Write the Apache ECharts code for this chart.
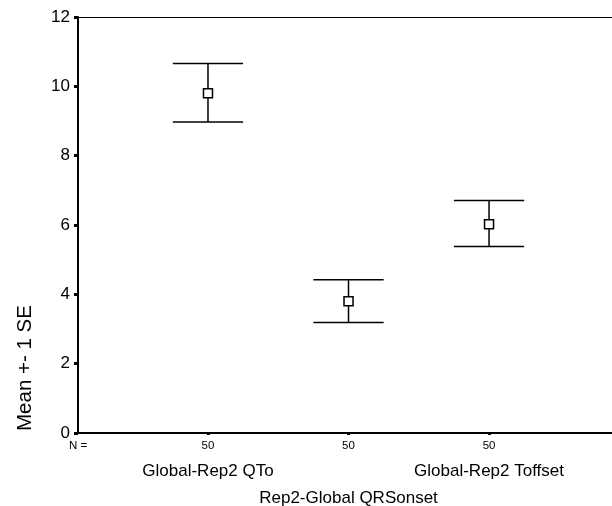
<!DOCTYPE html>
<html>
<head>
<meta charset="utf-8">
<script src="https://cdn.jsdelivr.net/npm/echarts@6/dist/echarts.min.js"></script>
<style>
  html, body { margin: 0; padding: 0; background: #fff; }
  #chart { width: 612px; height: 506px; }
</style>
</head>
<body>
<div id="chart"></div>
<script>
// groups along the x axis
const categories = ['Global-Rep2 QTo', 'Rep2-Global QRSonset', 'Global-Rep2 Toffset']
const counts = [50, 50, 50]
// mean and mean +- 1 SE
const means = [9.80, 3.80, 6.02]
const lower = [8.97, 3.19, 5.38]
const upper = [10.66, 4.42, 6.71]
const yTicks = [0, 2, 4, 6, 8, 10, 12]

const font = '"Liberation Sans", Arial, Helvetica, sans-serif'
const xMin = 0.075
const xMax = 3.875

;(function () {
  const el = document.getElementById('chart')
  const chart = echarts.init(el)

  const data = categories.map(function (c, i) {
    return [i + 1, means[i], lower[i], upper[i]]
  })

  // extra bottom axes used only to carry the staggered group names
  function nameAxis(values, margin) {
    return {
      type: 'value',
      position: 'bottom',
      min: xMin,
      max: xMax,
      splitLine: { show: false },
      axisLine: { show: false, onZero: false },
      axisTick: { show: false },
      axisLabel: {
        customValues: values,
        margin: margin,
        fontSize: 17,
        lineHeight: 20,
        fontFamily: font,
        color: '#000',
        formatter: function (v) { return categories[Math.round(v) - 1] }
      }
    }
  }

  const options = {
    animation: false,
    grid: { left: 78, right: 0, top: 17, bottom: 73, outerBoundsMode: 'none' },
    xAxis: [
      {
        type: 'value',
        min: xMin,
        max: xMax,
        splitLine: { show: false },
        axisLine: { show: true, onZero: false, lineStyle: { color: '#000', width: 2 } },
        axisTick: {
          show: true,
          customValues: [1, 2, 3],
          length: 2,
          lineStyle: { color: '#000', width: 3 }
        },
        axisLabel: {
          customValues: [xMin, 1, 2, 3],
          margin: 7,
          fontSize: 11.5,
          fontFamily: font,
          color: '#000',
          formatter: function (v) {
            if (v < 0.5) return 'N ='
            return String(counts[Math.round(v) - 1])
          }
        }
      },
      {
        type: 'value',
        position: 'top',
        min: xMin,
        max: xMax,
        splitLine: { show: false },
        axisLine: { show: true, onZero: false, lineStyle: { color: '#000', width: 1 } },
        axisTick: { show: false },
        axisLabel: { show: false }
      },
      nameAxis([1, 3], 28),
      nameAxis([2], 55)
    ],
    yAxis: {
      type: 'value',
      min: 0,
      max: 12,
      interval: 2,
      splitLine: { show: false },
      axisLine: { show: true, lineStyle: { color: '#000', width: 2 } },
      axisTick: { show: true, length: 4, lineStyle: { color: '#000', width: 3 } },
      axisLabel: {
        margin: 8,
        fontSize: 17,
        fontFamily: font,
        color: '#000',
        formatter: function (v) { return yTicks.indexOf(v) >= 0 ? String(v) : '' }
      }
    },
    graphic: [
      {
        type: 'text',
        x: 25,
        y: 368,
        rotation: Math.PI / 2,
        style: {
          text: 'Mean +- 1 SE',
          fontSize: 20.5,
          fontFamily: font,
          fill: '#000',
          align: 'center',
          verticalAlign: 'middle'
        }
      }
    ],
    series: [
      {
        type: 'custom',
        data: data,
        encode: { x: 0, y: [1, 2, 3] },
        renderItem: function (params, api) {
          const x = api.value(0)
          const hi = api.coord([x, api.value(3)])
          const lo = api.coord([x, api.value(2)])
          const mid = api.coord([x, api.value(1)])
          const half = api.size([0.25, 0])[0]
          const st = { stroke: '#000', lineWidth: 1.5, fill: null }
          const box = 9
          return {
            type: 'group',
            children: [
              { type: 'line', shape: { x1: hi[0] - half, y1: hi[1], x2: hi[0] + half, y2: hi[1] }, style: st },
              { type: 'line', shape: { x1: lo[0] - half, y1: lo[1], x2: lo[0] + half, y2: lo[1] }, style: st },
              { type: 'line', shape: { x1: hi[0], y1: hi[1], x2: lo[0], y2: lo[1] }, style: st },
              {
                type: 'rect',
                shape: { x: mid[0] - box / 2, y: mid[1] - box / 2, width: box, height: box },
                style: { stroke: '#000', lineWidth: 1.5, fill: '#fff' }
              }
            ]
          }
        }
      }
    ]
  }

  chart && chart.setOption(options)

  window.addEventListener('resize', function () {
    chart.resize()
  })
})()
</script>
</body>
</html>
